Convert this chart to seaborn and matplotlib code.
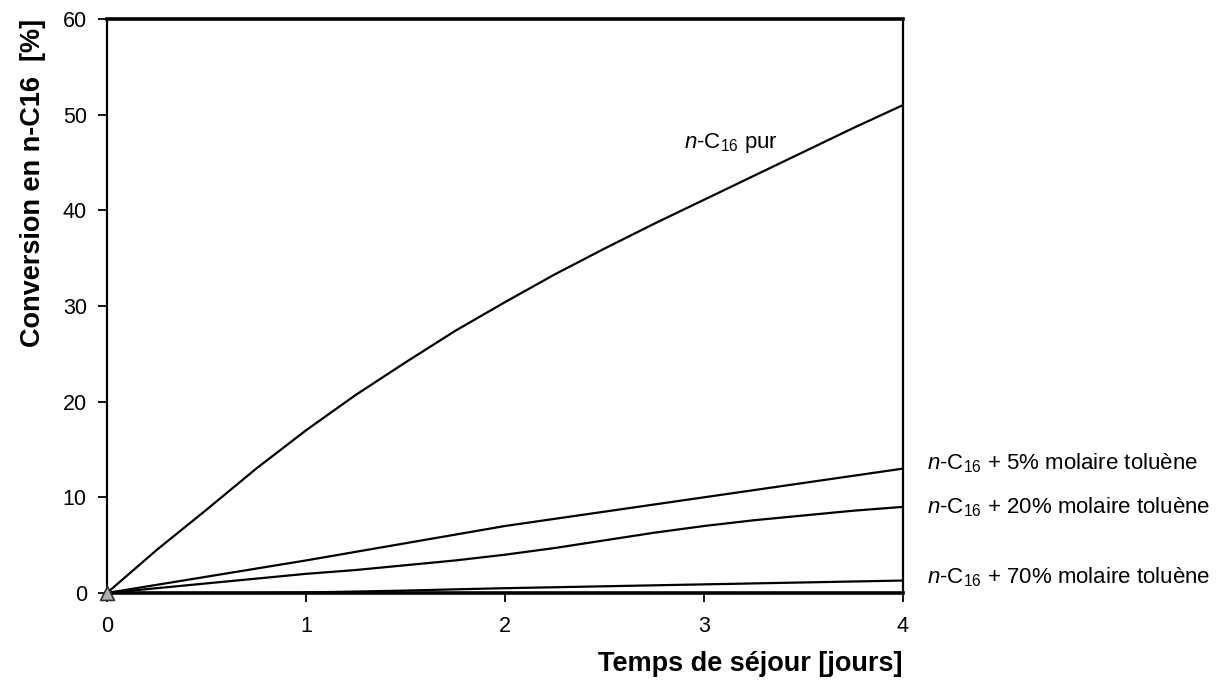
import numpy as np
import pandas as pd
import seaborn as sns
import matplotlib.pyplot as plt

# temps de sejour [jours] and conversion [%]
temps = [0, 0.25, 0.5, 0.75, 1, 1.25, 1.5, 1.75, 2, 2.25, 2.5, 2.75, 3, 3.25, 3.5, 3.75, 4]
pur = [0, 4.5, 8.7, 13.0, 17.0, 20.7, 24.1, 27.4, 30.4, 33.3, 36.0, 38.6, 41.1, 43.6, 46.1, 48.6, 51.0]
tol5 = [0, 0.85, 1.7, 2.55, 3.4, 4.3, 5.2, 6.1, 7.0, 7.75, 8.5, 9.25, 10.0, 10.75, 11.5, 12.25, 13.0]
tol20 = [0, 0.5, 1.0, 1.5, 2.0, 2.4, 2.9, 3.4, 4.0, 4.7, 5.5, 6.3, 7.0, 7.6, 8.1, 8.6, 9.0]
tol70 = [0, 0, 0, 0, 0.05, 0.15, 0.25, 0.38, 0.5, 0.6, 0.7, 0.8, 0.9, 1.0, 1.1, 1.2, 1.3]

labels = [r'$n$-C$_{16}$ + 5% molaire toluène',
          r'$n$-C$_{16}$ + 20% molaire toluène',
          r'$n$-C$_{16}$ + 70% molaire toluène']

sns.set_style('ticks')
plt.rcParams['font.family'] = ['Liberation Sans', 'DejaVu Sans']
plt.rcParams['mathtext.fontset'] = 'custom'
plt.rcParams['mathtext.rm'] = 'Liberation Sans'
plt.rcParams['mathtext.it'] = 'Liberation Sans:italic'
plt.rcParams['text.color'] = 'black'
plt.rcParams['axes.labelcolor'] = 'black'

fig = plt.figure(figsize=(12.28, 6.86), dpi=100)
ax = fig.add_axes([0.0871, 0.1356, 0.7353 - 0.0871, 0.9723 - 0.1356])

series = [pur, tol5, tol20, tol70]
for s in series:
    sns.lineplot(x=temps, y=s, ax=ax, color='black', lw=1.6)

# marker at origin
sns.scatterplot(x=[temps[0]], y=[pur[0]], ax=ax, marker='^', s=100,
                color='#b0b0b0', edgecolor='#333333', linewidth=1.2, zorder=5, clip_on=False)

ax.set_xlim(0, 4)
ax.set_ylim(0, 60)
ax.set_xticks([0, 1, 2, 3, 4])
ax.set_yticks(range(0, 61, 10))
ax.tick_params(axis='both', labelsize=15.5, length=6.5, width=1.3, colors='black', pad=8)
ax.tick_params(axis='x', pad=10)

for side in ['top', 'bottom']:
    ax.spines[side].set_linewidth(2.6)
for side in ['left', 'right']:
    ax.spines[side].set_linewidth(1.6)
for sp in ax.spines.values():
    sp.set_color('black')

ax.set_xlabel('Temps de séjour [jours]', fontsize=19.5, fontweight='bold', loc='right', labelpad=10)
ax.set_ylabel('Conversion en n-C16  [%]', fontsize=19.5, fontweight='bold', loc='top', labelpad=12)

ax.text(2.90, 47.0, r'$n$-C$_{16}$ pur', fontsize=16, va='center', ha='left')
for lab, s, yy in zip(labels, [tol5, tol20, tol70], [13.6, 9.0, 1.7]):
    ax.text(4.12, yy, lab, fontsize=16, va='center', ha='left', clip_on=False)

fig.savefig('out.png', dpi=100)
